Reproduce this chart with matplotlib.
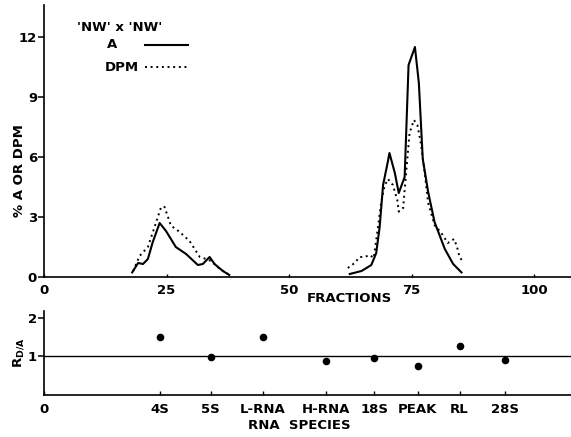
import matplotlib
matplotlib.use("Agg")
import matplotlib.pyplot as plt
from matplotlib.lines import Line2D

plt.rcParams['font.family'] = ['DejaVu Sans']
plt.rcParams['font.weight'] = 'bold'
plt.rcParams['axes.labelweight'] = 'bold'
plt.rcParams['font.size'] = 9.5

# ---- data: upper panel (fractions vs % A or DPM) ----
a_left_x = [18.0, 19.2, 20.2, 21.2, 22.2, 23.6, 24.9, 26.9, 29.0, 31.4, 32.4, 33.8, 34.8, 36.5, 37.8]
a_left_y = [0.23, 0.7, 0.65, 0.9, 1.75, 2.7, 2.3, 1.5, 1.15, 0.6, 0.65, 1.0, 0.65, 0.3, 0.1]
dpm_left_x = [18.2, 19.5, 21.2, 22.9, 23.9, 24.6, 25.9, 27.7, 29.7, 31.8, 33.1, 34.1, 35.9, 37.6]
dpm_left_y = [0.3, 1.05, 1.5, 2.75, 3.5, 3.5, 2.57, 2.25, 1.8, 1.0, 0.9, 0.8, 0.4, 0.15]

a_right_x = [62.4, 64.8, 66.8, 67.8, 68.5, 69.2, 70.2, 70.5, 71.6, 72.4, 73.6, 74.4, 75.7, 76.5,
             77.3, 78.4, 79.7, 81.8, 83.5, 85.2]
a_right_y = [0.15, 0.3, 0.6, 1.2, 2.5, 4.6, 5.8, 6.2, 5.2, 4.2, 5.0, 10.6, 11.5, 9.7,
             5.9, 4.25, 2.75, 1.4, 0.65, 0.23]
dpm_right_x = [62.0, 63.4, 64.4, 65.4, 66.5, 67.3, 68.0, 68.8, 69.5, 70.2, 71.2, 72.1, 72.4, 73.3,
               73.6, 73.9, 74.6, 75.5, 76.2, 76.9, 77.7, 78.4, 79.7, 81.1, 82.4, 83.7, 84.3, 84.8, 85.5]
dpm_right_y = [0.45, 0.7, 1.0, 1.0, 1.1, 0.95, 2.2, 3.7, 4.55, 4.9, 4.6, 3.85, 3.27, 3.45,
               4.35, 5.2, 7.2, 7.85, 7.6, 6.7, 5.2, 3.7, 2.6, 2.2, 1.7, 1.9, 1.5, 1.0, 0.77]

frac_ticks = [0, 25, 50, 75, 100]
pct_ticks = [0, 3, 6, 9, 12]

# ---- data: lower panel (RNA species vs R D/A) ----
species = ['4S', '5S', 'L-RNA', 'H-RNA', '18S', 'PEAK', 'RL', '28S']
species_fraction = [23.6, 34.0, 44.7, 57.5, 67.4, 76.3, 84.8, 94.0]
ratio = [1.5, 0.98, 1.5, 0.88, 0.96, 0.74, 1.26, 0.9]
ratio_ticks = [1, 2]

W, H = 571, 437
fig = plt.figure(figsize=(W / 100, H / 100), dpi=100)

def fr(x0, y0, x1, y1):
    return [x0 / W, 1 - y1 / H, (x1 - x0) / W, (y1 - y0) / H]

ax = fig.add_axes(fr(44, 5, 571, 277))
ax2 = fig.add_axes(fr(44, 311, 571, 395))

dots = (0, (1, 1.9))
ax.plot(a_left_x, a_left_y, color='black', lw=1.5, solid_joinstyle='round')
ax.plot(a_right_x, a_right_y, color='black', lw=1.5, solid_joinstyle='round')
ax.plot(dpm_left_x, dpm_left_y, color='black', lw=1.4, linestyle=dots)
ax.plot(dpm_right_x, dpm_right_y, color='black', lw=1.4, linestyle=dots)

xmax = (571 - 44) / 4.9
ax.set_xlim(0, xmax)
ax.set_ylim(0, 13.6)
ax.set_xticks(frac_ticks)
ax.set_xticklabels([str(t) for t in frac_ticks])
ax.set_yticks(pct_ticks)
ax.set_yticklabels([str(t) for t in pct_ticks])
for s in ['top', 'right']:
    ax.spines[s].set_visible(False)
for s in ['left', 'bottom']:
    ax.spines[s].set_linewidth(1.2)
ax.tick_params(axis='y', direction='out', length=4, width=1.1, pad=1)
ax.tick_params(axis='x', direction='in', length=2, width=1, pad=5)
ax.set_xlabel('FRACTIONS', va='center')
ax.xaxis.set_label_coords(0.579, -0.08)
ax.set_ylabel('% A OR DPM', va='center')
ax.yaxis.set_label_coords(-0.046, 0.39)

# key
ax.text(0.063, 0.919, "'NW' x 'NW'", transform=ax.transAxes, ha='left', va='center')
ax.text(0.12, 0.853, "A", transform=ax.transAxes, ha='left', va='center')
ax.text(0.116, 0.772, "DPM", transform=ax.transAxes, ha='left', va='center')
ax.add_line(Line2D([0.192, 0.273], [0.853, 0.853], transform=ax.transAxes, color='black', lw=1.5))
ax.add_line(Line2D([0.192, 0.273], [0.772, 0.772], transform=ax.transAxes, color='black', lw=1.4,
                   linestyle=dots))

# lower panel
ax2.axhline(1, color='black', lw=1.0)
ax2.scatter(species_fraction, ratio, s=20, color='black', zorder=3)
ax2.set_xlim(0, xmax)
ax2.set_ylim(0, 2.18)
ax2.set_xticks([0] + species_fraction)
ax2.set_xticklabels(['0'] + species)
ax2.set_yticks(ratio_ticks)
ax2.set_yticklabels([str(t) for t in ratio_ticks])
for s in ['top', 'right']:
    ax2.spines[s].set_visible(False)
for s in ['left', 'bottom']:
    ax2.spines[s].set_linewidth(1.2)
ax2.tick_params(axis='y', direction='out', length=4, width=1.1, pad=1)
ax2.tick_params(axis='x', direction='in', length=3, width=1, pad=6)
ax2.set_xlabel('RNA  SPECIES', va='center')
ax2.xaxis.set_label_coords(0.484, -0.36)
ax2.set_ylabel('R$_{\\mathbf{D/A}}$', va='center')
ax2.yaxis.set_label_coords(-0.049, 0.5)

fig.savefig('out.png', dpi=100)
